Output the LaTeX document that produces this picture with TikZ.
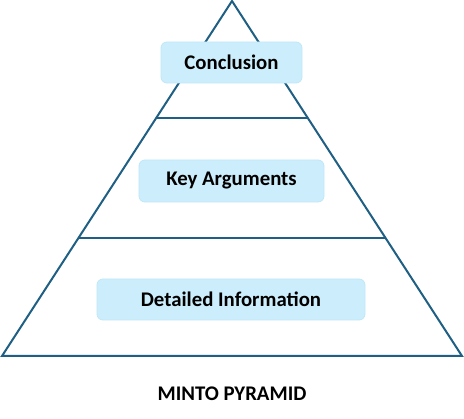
\documentclass[tikz,border=0pt]{standalone}
\usepackage{fontspec}
\setmainfont{Carlito}
\definecolor{edge}{HTML}{1E5F83}
\definecolor{boxfill}{HTML}{CCEEFC}
\definecolor{boxline}{HTML}{BFE6F7}
\begin{document}
\begin{tikzpicture}[x=1pt,y=-1pt,
  label box/.style={fill=boxfill,draw=boxline,line width=0.8pt,rounded corners=6pt,inner sep=0pt,
    font=\fontsize{20.8}{25}\selectfont\bfseries},
  pyr/.style={draw=edge,line width=2pt,line join=miter}]
\useasboundingbox (0,0) rectangle (464,419);
\coordinate (apex) at (232,1);
\coordinate (bl) at (2,356);
\coordinate (br) at (462,356);
\coordinate (l1a) at (156,118);
\coordinate (l1b) at (308,118);
\coordinate (l2a) at (79,238);
\coordinate (l2b) at (385,238);
\draw[pyr] (apex) -- (bl) -- (br) -- cycle;
\draw[pyr] (l1a) -- (l1b);
\draw[pyr] (l2a) -- (l2b);
\node[label box,minimum width=141pt,minimum height=41pt] (concl) at (231.5,62.5) {Conclusion};
\node[label box,minimum width=185pt,minimum height=42pt] (key) at (231.5,181) {Key Arguments};
\node[label box,minimum width=268pt,minimum height=41pt] (det) at (231,299.5) {Detailed Information};
\node[font=\fontsize{20.8}{25}\selectfont\bfseries] (title) at (232,394) {MINTO PYRAMID};
\end{tikzpicture}
\end{document}
